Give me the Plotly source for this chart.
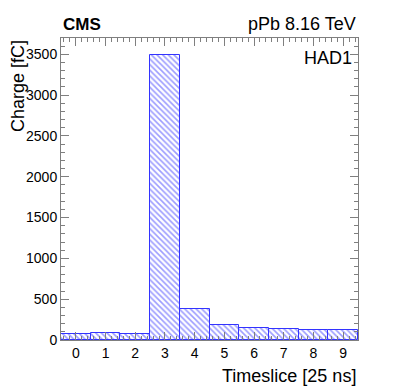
import plotly.graph_objects as go

timeslices = [0, 1, 2, 3, 4, 5, 6, 7, 8, 9]
charge = [78, 85, 70, 3490, 385, 182, 142, 130, 125, 117]
x_ticks = [0, 1, 2, 3, 4, 5, 6, 7, 8, 9]
y_ticks = [0, 500, 1000, 1500, 2000, 2500, 3000, 3500]

FONT = "Liberation Sans, Arial, Helvetica, sans-serif"
BLUE = "#3333ff"

fig = go.Figure()
fig.add_trace(go.Bar(
    x=timeslices, y=charge, width=1.0,
    marker=dict(color="white",
                line=dict(color=BLUE, width=1),
                pattern=dict(shape="\\", fgcolor="#3a3aff", bgcolor="white",
                             size=4, solidity=0.4)),
    showlegend=False,
))

axis_common = dict(
    showline=True, linecolor="#7f7f7f", linewidth=1, mirror="allticks",
    ticks="inside", tickcolor="#7f7f7f", showgrid=False, zeroline=False,
    tickfont=dict(family=FONT, size=14, color="black"),
)
fig.update_xaxes(range=[-0.5, 9.5], tickvals=x_ticks, ticklen=8,
                 minor=dict(ticks="inside", ticklen=4, dtick=0.2, tickcolor="#7f7f7f"),
                 **axis_common)
fig.update_yaxes(range=[0, 3700], tickvals=y_ticks, ticklen=8,
                 minor=dict(ticks="inside", ticklen=4, dtick=100, tickcolor="#7f7f7f"),
                 **axis_common)

fig.update_layout(
    width=399, height=383,
    margin=dict(l=53, r=49, t=30, b=51),
    paper_bgcolor="white", plot_bgcolor="white",
    bargap=0,
    font=dict(family=FONT, color="black"),
    annotations=[
        dict(text="<b>CMS</b>", x=0, y=1.005, xref="paper", yref="paper",
             xanchor="left", yanchor="bottom", showarrow=False,
             font=dict(family=FONT, size=17)),
        dict(text="pPb 8.16 TeV", x=1, y=1.005, xref="paper", yref="paper",
             xanchor="right", yanchor="bottom", showarrow=False,
             font=dict(family=FONT, size=18)),
        dict(text="HAD1", x=0.985, y=0.975, xref="paper", yref="paper",
             xanchor="right", yanchor="top", showarrow=False,
             font=dict(family=FONT, size=18)),
        dict(text="Timeslice [25 ns]", x=1, y=-0.08, xref="paper", yref="paper",
             xanchor="right", yanchor="top", showarrow=False,
             font=dict(family=FONT, size=18)),
        dict(text="Charge [fC]", x=-0.145, y=1, xref="paper", yref="paper",
             xanchor="center", yanchor="top", textangle=-90, showarrow=False,
             font=dict(family=FONT, size=18)),
    ],
)

fig.write_html("out.html")
